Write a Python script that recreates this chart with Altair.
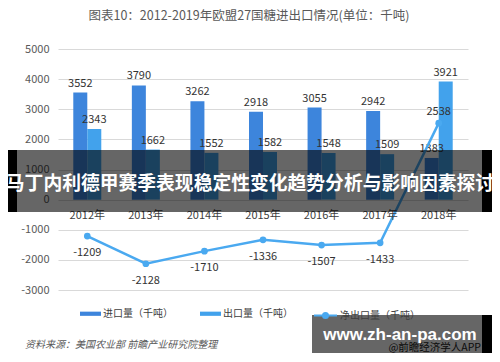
import altair as alt
import pandas as pd

# ---- data ----
years = ["2012年", "2013年", "2014年", "2015年", "2016年", "2017年", "2018年"]
imports = [3552, 3790, 3262, 2918, 3055, 2942, 1383]
exports = [2343, 1662, 1552, 1582, 1548, 1509, 3921]
net_exports = [-1209, -2128, -1710, -1336, -1507, -1433, 2538]
series_names = ["进口量（千吨）", "出口量（千吨）", "净出口量（千吨）"]
y_ticks = [-3000, -2000, -1000, 0, 1000, 2000, 3000, 4000, 5000]

TITLE = "图表10：2012-2019年欧盟27国糖进出口情况(单位：千吨)"
SOURCE = "资料来源：美国农业部 前瞻产业研究院整理"
BANNER = "马丁内利德甲赛季表现稳定性变化趋势分析与影响因素探讨"
WATERMARK = "www.zh-an-pa.com"
SUBMARK = "@前瞻经济学人APP"

C_IMP = "#3d85dc"
C_EXP = "#42a2ec"
C_NET = "#4aa9f0"
FONT = "Noto Sans CJK SC"

rows = []
for i, y in enumerate(years):
    rows.append({"year": y, "series": series_names[0], "value": imports[i], "o": 0,
                 "lab": str(imports[i])})
    rows.append({"year": y, "series": series_names[1], "value": exports[i], "o": 1,
                 "lab": str(exports[i])})
bars_df = pd.DataFrame(rows)
net_df = pd.DataFrame({"year": years, "net": net_exports, "name": series_names[2],
                       "zero": 0, "lab": [str(v) for v in net_exports]})

xenc = alt.X("year:N", sort=years, axis=None,
             scale=alt.Scale(paddingInner=0.522, paddingOuter=0.261))
xoff = alt.XOffset("o:O", scale=alt.Scale(paddingInner=0, paddingOuter=0))

yaxis = alt.Axis(values=y_ticks, grid=True, domain=False, ticks=False,
                 labelOverlap=False, labelExpr="'' + datum.value",
                 labelPadding=9, labelFontSize=11, labelColor="#595959",
                 labelFont=FONT, gridColor="#d9d9d9", gridWidth=1)
yscale = alt.Scale(domain=[-3000, 5000], nice=False, zero=False)


def Y(field):
    return alt.Y(field, title=None, scale=yscale, axis=yaxis)


bars = alt.Chart(bars_df).mark_bar().encode(
    x=xenc,
    xOffset=xoff,
    y=Y("value:Q"),
    color=alt.Color("series:N",
                    scale=alt.Scale(domain=series_names[:2], range=[C_IMP, C_EXP]),
                    legend=alt.Legend(orient="none", legendX=22, legendY=254,
                                      direction="horizontal", title=None,
                                      symbolType="M-1,-0.2L1,-0.2L1,0.2L-1,0.2Z",
                                      symbolSize=441, symbolStrokeWidth=0,
                                      labelFontSize=10, labelFont=FONT,
                                      labelColor="#404040", labelOffset=2,
                                      columnPadding=27)),
)

bar_labels = alt.Chart(bars_df).mark_text(
    baseline="bottom", dy=-4, fontSize=11, font=FONT, color="#333333"
).encode(x=xenc, xOffset=xoff, y=Y("value:Q"), text="lab:N")

line = alt.Chart(net_df).mark_line(strokeWidth=2.5).encode(
    x=xenc,
    y=Y("net:Q"),
    stroke=alt.Stroke("name:N",
                      scale=alt.Scale(domain=[series_names[2]], range=[C_NET]),
                      legend=alt.Legend(orient="none", legendX=255, legendY=254,
                                        title=None,
                                        symbolType="M-1,0L1,0M0.22,0A0.22,0.22 0 1 1 -0.22,0A0.22,0.22 0 1 1 0.22,0Z",
                                        symbolSize=529, symbolStrokeWidth=2,
                                        symbolFillColor=C_NET,
                                        labelFontSize=10, labelFont=FONT,
                                        labelColor="#404040", labelOffset=2)),
)

points = alt.Chart(net_df).mark_circle(size=45, opacity=1, color=C_NET).encode(
    x=xenc, y=Y("net:Q"))

net_lab_neg = alt.Chart(net_df).transform_filter("datum.net < 0").mark_text(
    baseline="middle", dy=17, fontSize=11, font=FONT, color="#333333"
).encode(x=xenc, y=Y("net:Q"), text="lab:N")

net_lab_pos = alt.Chart(net_df).transform_filter("datum.net >= 0").mark_text(
    baseline="middle", dy=-11, fontSize=11, font=FONT, color="#333333"
).encode(x=xenc, y=Y("net:Q"), text="lab:N")

year_labels = alt.Chart(net_df).mark_text(
    baseline="middle", dy=16, fontSize=11, font=FONT, color="#404040"
).encode(x=xenc, y=Y("zero:Q"), text="year:N")

one = pd.DataFrame({"t": [0]})


def box(x1, x2, y1, y2, color, op):
    return alt.Chart(one).mark_rect(color=color, opacity=op).encode(
        x=alt.value(x1), x2=alt.value(x2), y=alt.value(y1), y2=alt.value(y2))


def label(txt, x, y, **kw):
    return alt.Chart(pd.DataFrame({"t": [txt]})).mark_text(**kw).encode(
        x=alt.value(x), y=alt.value(y), text="t:N")


title = label(TITLE, 191, -33, fontSize=12.5, font=FONT, color="#595959",
              align="center", baseline="middle")
source = label(SOURCE, -33, 296, fontSize=10, font=FONT, color="#595959",
               fontStyle="italic", align="left", baseline="middle")
submark = label(SUBMARK, 423, 299, fontSize=10.5, font=FONT, color="#222222",
                align="right", baseline="middle")

banner_l = box(-50, -41, 101, 163, "#000000", 1)
banner_m = box(-41, 424, 101, 163, "#000000", 0.6)
banner_r = box(424, 442, 101, 163, "#000000", 1)
banner_t = label(BANNER, 192, 135, fontSize=18.8, font=FONT, fontWeight="bold",
                 color="#ffffff", align="center", baseline="middle")

wm_box = box(254, 424, 266, 304, "#000000", 0.6)
wm_edge = box(424, 434, 266, 304, "#000000", 1)
wm_text = label(WATERMARK, 342, 286, fontSize=17, font="Liberation Sans",
                fontWeight="bold", color="#ffffff", align="center", baseline="middle")

chart = alt.layer(
    bars, bar_labels, line, points, net_lab_neg, net_lab_pos, year_labels,
    title, source, submark,
    banner_l, banner_m, banner_r, banner_t,
    wm_box, wm_edge, wm_text,
).properties(
    width=410, height=241,
    padding={"left": 50, "top": 41, "right": 24, "bottom": 64},
    autosize=alt.AutoSizeParams(type="none"),
    background="#ffffff",
).configure_view(stroke=None).configure_axis(labelOverlap=False)

chart.save("out.html", embed_options={"renderer": "svg", "actions": False})
